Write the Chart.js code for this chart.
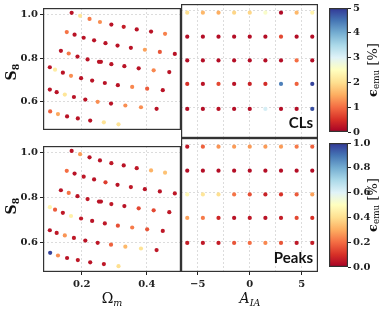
<!DOCTYPE html>
<html lang="en">
<head>
<meta charset="UTF-8">
<title>Emulator error</title>
<script src="https://cdn.jsdelivr.net/npm/chart.js"></script>
<style>
  body { margin: 0; background: #fff; }
  #fig { position: relative; width: 390px; height: 309px; overflow: hidden; }
  #fig canvas { position: absolute; }
  .lbl { position: absolute; font-family: "DejaVu Serif", serif; color: #111; white-space: nowrap; line-height: 1; }
  .lbl sub { font-size: 0.68em; vertical-align: -0.3em; line-height: 0; }
  .rot { transform: translate(-50%, -50%) rotate(-90deg); }
  .ctr { transform: translate(-50%, -50%); }
  .tag { position: absolute; font-family: Lato, sans-serif; font-weight: 700; font-size: 15px; color: #111; line-height: 1; }
</style>
</head>
<body>
<div id="fig">
  <canvas id="tl"></canvas>
  <canvas id="tr"></canvas>
  <canvas id="bl"></canvas>
  <canvas id="br"></canvas>
  <canvas id="cb1"></canvas>
  <canvas id="cb2"></canvas>

  <div class="lbl rot" style="left:11px;top:72px;font-size:14px;font-weight:700">S<sub>8</sub></div>
  <div class="lbl rot" style="left:11px;top:206px;font-size:14px;font-weight:700">S<sub>8</sub></div>
  <div class="lbl ctr" style="left:112px;top:298px;font-size:14px">Ω<sub><i>m</i></sub></div>
  <div class="lbl ctr" style="left:250px;top:298px;font-size:14px"><i>A<sub>IA</sub></i></div>
  <div class="lbl rot" style="left:372px;top:70px;font-size:13px"><b>ϵ</b><sub>emu</sub> [%]</div>
  <div class="lbl rot" style="left:372px;top:205px;font-size:13px"><b>ϵ</b><sub>emu</sub> [%]</div>
  <div class="tag" style="right:77px;top:115px">CLs</div>
  <div class="tag" style="right:77px;top:250px">Peaks</div>
</div>

<script>
// cosmology grid (Omega_m, S8)
const omegaM = [
  0.169, 0.195, 0.224, 0.256, 0.291, 0.329, 0.369, 0.413, 0.456,
  0.154, 0.178, 0.206, 0.238, 0.273, 0.310, 0.351, 0.394, 0.440, 0.486,
  0.136, 0.160, 0.187, 0.218, 0.253, 0.259, 0.291, 0.331, 0.375, 0.421, 0.469,
  0.102, 0.118, 0.142, 0.167, 0.198, 0.232, 0.271, 0.311, 0.355, 0.401, 0.449,
  0.102, 0.123, 0.148, 0.176, 0.211, 0.249, 0.290, 0.334, 0.382, 0.430,
  0.103, 0.127, 0.155, 0.188, 0.226, 0.268, 0.313
];
const s8 = [
  1.007, 0.993, 0.979, 0.965, 0.953, 0.943, 0.931, 0.921, 0.911,
  0.919, 0.907, 0.893, 0.881, 0.868, 0.857, 0.847, 0.838, 0.828, 0.819,
  0.833, 0.821, 0.807, 0.794, 0.783, 0.783, 0.772, 0.763, 0.753, 0.744, 0.736,
  0.758, 0.747, 0.733, 0.719, 0.708, 0.697, 0.686, 0.676, 0.668, 0.660, 0.653,
  0.656, 0.644, 0.633, 0.622, 0.610, 0.600, 0.592, 0.583, 0.575, 0.568,
  0.556, 0.544, 0.533, 0.524, 0.514, 0.506, 0.497
];
// emulator error [%] at each cosmology
const errClsCosmo = [
  0.2, 2.1, 1.1, 1.25, 0.2, 0.3, 0.2, 0.2, 1.15,
  1.05, 0.2, 0.2, 0.2, 0.2, 0.2, 0.2, 1.4, 0.8, 0.2,
  0.2, 1.1, 0.2, 0.2, 0.2, 0.2, 0.2, 0.2, 0.2, 1.2, 0.2,
  0.2, 2.2, 0.2, 1.25, 0.2, 0.2, 0.2, 0.2, 1.2, 0.85, 0.2,
  0.2, 0.2, 2.1, 0.2, 0.2, 1.25, 0.2, 1.25, 1.25, 0.2,
  0.9, 1.45, 0.2, 0.2, 0.2, 2.05, 2.05
];
const errPeaksCosmo = [
  0.04, 0.28, 0.04, 0.04, 0.05, 0.04, 0.05, 0.31, 0.34,
  0.2, 0.04, 0.05, 0.04, 0.12, 0.04, 0.05, 0.04, 0.04, 0.05,
  0.04, 0.21, 0.04, 0.05, 0.04, 0.04, 0.05, 0.04, 0.14, 0.14, 0.05,
  0.46, 0.17, 0.05, 0.45, 0.05, 0.04, 0.05, 0.15, 0.22, 0.16, 0.05,
  0.04, 0.05, 0.26, 0.05, 0.04, 0.05, 0.18, 0.32, 0.41, 0.05,
  0.98, 0.25, 0.04, 0.05, 0.04, 0.05, 0.4
];

// intrinsic alignment grid
const aIA = [-6, -4.5, -3, -1.5, 0, 1.5, 3, 4.5, 6];
const s8Rows = [0.993, 0.893, 0.794, 0.696, 0.592];
const errClsIA = [
  [2.0, 1.6, 1.5, 1.9, 1.9, 2.6, 0.1, 1.6, 2.3],
  [0.15, 0.15, 0.15, 0.15, 0.15, 0.15, 0.7, 0.15, 0.15],
  [0.15, 0.15, 0.15, 0.15, 0.15, 0.15, 0.15, 1.0, 0.15],
  [0.5, 0.2, 0.7, 0.2, 0.35, 0.45, 4.4, 0.9, 4.9],
  [0.15, 0.15, 0.2, 0.15, 0.15, 3.1, 0.15, 0.15, 4.8]
];
const errPeaksIA = [
  [0.05, 0.18, 0.26, 0.27, 0.27, 0.27, 0.27, 0.22, 0.18],
  [0.03, 0.03, 0.03, 0.03, 0.03, 0.03, 0.03, 0.03, 0.03],
  [0.48, 0.42, 0.40, 0.21, 0.15, 0.07, 0.1, 0.17, 0.28],
  [0.28, 0.22, 0.08, 0.04, 0.05, 0.04, 0.06, 0.14, 0.1],
  [0.06, 0.05, 0.06, 0.16, 0.2, 0.24, 0.16, 0.05, 0.06]
];

// axes
const omTicks = [0.2, 0.4];
const s8Ticks = [0.6, 0.8, 1.0];
const aTicks = [-5, -2.5, 0, 2.5, 5];
const clsRange = [0, 5];
const peaksRange = [0, 1];

// RdYlBu colormap
const rdylbu = ['#a50026', '#d73027', '#f46d43', '#fdae61', '#fee090', '#ffffbf',
                '#e0f3f8', '#abd9e9', '#74add1', '#4575b4', '#313695'];

function hex2rgb(h) {
  return [1, 3, 5].map(i => parseInt(h.substr(i, 2), 16));
}
function cmap(t) {
  t = Math.max(0, Math.min(1, t)) * 10;
  const i = Math.min(9, Math.floor(t));
  const f = t - i;
  const a = hex2rgb(rdylbu[i]), b = hex2rgb(rdylbu[i + 1]);
  const c = a.map((v, k) => Math.round(v + (b[k] - v) * f));
  return 'rgb(' + c.join(',') + ')';
}

const tickFont = { family: 'DejaVu Serif', size: 10, weight: 'bold' };
const ink = '#222';
const gridCol = '#d4d4d4';

const frame = {
  id: 'frame',
  afterDraw(ch) {
    const a = ch.chartArea, c = ch.ctx;
    c.save();
    c.strokeStyle = '#333';
    c.lineWidth = 1.2;
    c.strokeRect(a.left + 0.6, a.top + 0.6, a.right - a.left - 1.2, a.bottom - a.top - 1.2);
    c.restore();
  }
};

function place(id, x, y, w, h) {
  const c = document.getElementById(id);
  c.width = w; c.height = h;
  c.style.left = x + 'px'; c.style.top = y + 'px';
  c.style.width = w + 'px'; c.style.height = h + 'px';
  return c;
}

function setTicks(list) {
  return s => { s.ticks = list.map(v => ({ value: v })); };
}

function xScale(kind, showLabels) {
  const isOm = kind === 'om';
  return {
    type: 'linear',
    min: isOm ? 0.081 : -6.6,
    max: isOm ? 0.505 : 6.55,
    afterBuildTicks: setTicks(isOm ? omTicks : aTicks),
    ticks: {
      display: showLabels,
      font: tickFont, color: ink, padding: 3, maxRotation: 0,
      callback: v => isOm ? v.toFixed(1) : (v % 5 === 0 ? String(v).replace('-', '\u2212') : '')
    },
    grid: {
      color: gridCol, lineWidth: 0.8, drawTicks: showLabels, tickLength: 3, tickWidth: 1,
      tickColor: ctx => (isOm || (ctx.tick && ctx.tick.value % 5 === 0)) ? ink : 'rgba(0,0,0,0)'
    },
    border: { display: false, dash: [2, 2] },
    afterFit: s => { s.height = showLabels ? 37 : 0; }
  };
}

function yScale(showLabels) {
  return {
    type: 'linear',
    min: 0.471, max: 1.029,
    afterBuildTicks: setTicks(s8Ticks),
    ticks: { display: showLabels, font: tickFont, color: ink, padding: 2, callback: v => v.toFixed(1) },
    grid: { color: gridCol, lineWidth: 0.8, drawTicks: showLabels, tickLength: 3, tickWidth: 1, tickColor: ink },
    border: { display: false, dash: [2, 2] },
    afterFit: s => { s.width = showLabels ? 43 : 0; }
  };
}

function scatterPanel(id, box, pts, errs, vmax, xKind, leftCol, bottomRow) {
  place(id, box[0], box[1], box[2], box[3]);
  new Chart(document.getElementById(id), {
    type: 'scatter',
    data: {
      datasets: [{
        data: pts,
        backgroundColor: errs.map(e => cmap(e / vmax)),
        borderWidth: 0,
        pointRadius: 2.1,
        pointHoverRadius: 2.1
      }]
    },
    options: {
      responsive: false,
      animation: false,
      layout: { autoPadding: false, padding: { top: bottomRow ? 0 : 4, left: 0, right: 0, bottom: 0 } },
      plugins: { legend: { display: false }, tooltip: { enabled: false } },
      scales: { x: xScale(xKind, bottomRow), y: yScale(leftCol) }
    },
    plugins: [frame]
  });
}

const cosmoPts = omegaM.map((x, i) => ({ x: x, y: s8[i] }));
const iaPts = [];
s8Rows.forEach(y => aIA.forEach(x => iaPts.push({ x: x, y: y })));
const flat = m => m.reduce((a, r) => a.concat(r), []);

scatterPanel('tl', [0, 0, 181, 138], cosmoPts, errClsCosmo, clsRange[1], 'om', true, false);
scatterPanel('tr', [181, 0, 137, 138], iaPts, flat(errClsIA), clsRange[1], 'ia', false, false);
scatterPanel('bl', [0, 138, 181, 171], cosmoPts, errPeaksCosmo, peaksRange[1], 'om', true, true);
scatterPanel('br', [181, 138, 137, 171], iaPts, flat(errPeaksIA), peaksRange[1], 'ia', false, true);

// colour bars
function gradient(chart) {
  const a = chart.chartArea;
  if (!a) return '#ccc';
  const g = chart.ctx.createLinearGradient(0, a.bottom, 0, a.top);
  rdylbu.forEach((c, i) => g.addColorStop(i / 10, c));
  return g;
}

function colorbar(id, top, range, step, digits) {
  place(id, 329, top, 50, 140);
  new Chart(document.getElementById(id), {
    type: 'bar',
    data: {
      labels: [''],
      datasets: [{
        data: [range],
        backgroundColor: ctx => gradient(ctx.chart),
        borderWidth: 0,
        barPercentage: 1,
        categoryPercentage: 1
      }]
    },
    options: {
      responsive: false,
      animation: false,
      layout: { autoPadding: false, padding: { top: 7, bottom: 8, left: 0, right: 0 } },
      plugins: { legend: { display: false }, tooltip: { enabled: false } },
      scales: {
        x: { display: false },
        y: {
          position: 'right',
          min: range[0], max: range[1],
          ticks: { stepSize: step, font: tickFont, color: ink, padding: 2, callback: v => v.toFixed(digits) },
          grid: { drawOnChartArea: false, tickLength: 3, tickWidth: 1, tickColor: ink },
          border: { display: false },
          afterFit: s => { s.width = 31; }
        }
      }
    },
    plugins: [frame]
  });
}

colorbar('cb1', 0, clsRange, 1, 0);
colorbar('cb2', 135, peaksRange, 0.2, 1);
</script>
</body>
</html>
